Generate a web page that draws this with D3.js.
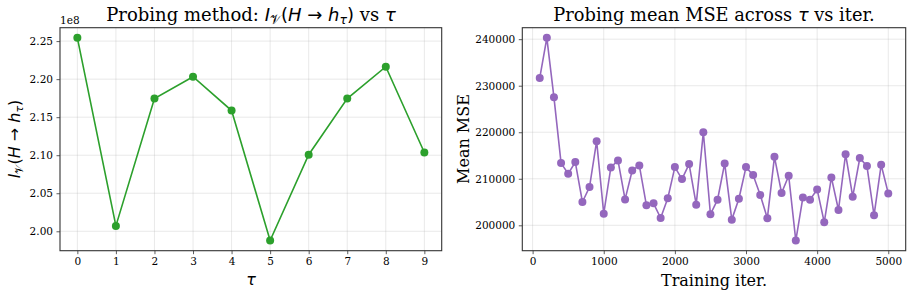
<!DOCTYPE html>
<html>
<head>
<meta charset="utf-8">
<script src="https://cdn.jsdelivr.net/npm/d3@7"></script>
<style>
  body { margin: 0; background: #fff; }
  svg text { font-family: "DejaVu Serif", serif; fill: #000; }
  .m { font-family: "DejaVu Sans", sans-serif; }
</style>
</head>
<body>
<div id="chart"></div>
<script>
// left panel: probing information per tau (values in units of 1e8)
var taus = [0, 1, 2, 3, 4, 5, 6, 7, 8, 9];
var infoVals = [2.2543, 2.0071, 2.1744, 2.2032, 2.1587, 1.9878, 2.1006, 2.1744, 2.2163, 2.1036];
var leftYTicks = [2.00, 2.05, 2.10, 2.15, 2.20, 2.25];

// right panel: mean MSE vs training iteration
var iters = [100, 200, 300, 400, 500, 600, 700, 800, 900, 1000,
             1100, 1200, 1300, 1400, 1500, 1600, 1700, 1800, 1900, 2000,
             2100, 2200, 2300, 2400, 2500, 2600, 2700, 2800, 2900, 3000,
             3100, 3200, 3300, 3400, 3500, 3600, 3700, 3800, 3900, 4000,
             4100, 4200, 4300, 4400, 4500, 4600, 4700, 4800, 4900, 5000];
var mseVals = [231650, 240290, 227500, 213370, 211080, 213580, 205010, 208220, 218080, 202500,
               212430, 213940, 205570, 211790, 212860, 204290, 204720, 201570, 205790, 212510,
               209940, 213150, 204430, 220010, 202360, 205510, 213290, 201220, 205720, 212510,
               210790, 206510, 201500, 214720, 206940, 210650, 196720, 206000, 205510, 207710,
               200640, 210290, 203290, 215290, 206150, 214440, 212730, 202140, 213010, 206860];
var rightXTicks = [0, 1000, 2000, 3000, 4000, 5000];
var rightYTicks = [200000, 210000, 220000, 230000, 240000];

var width = 913, height = 297;
var plotTop = 27.7, plotBottom = 250.7;

var svg = d3.select("#chart").append("svg")
    .attr("width", width)
    .attr("height", height);

function pad(ext) {
    var d = (ext[1] - ext[0]) * 0.05;
    return [ext[0] - d, ext[1] + d];
}

function drawPanel(opts) {
    var x = d3.scaleLinear().domain(pad(d3.extent(opts.xs))).range([opts.left, opts.right]);
    var y = d3.scaleLinear().domain(pad(d3.extent(opts.ys))).range([plotBottom, plotTop]);
    var g = svg.append("g");

    // grid
    g.selectAll("line.gx").data(opts.xTicks).enter().append("line")
        .attr("x1", function(d) { return x(d); }).attr("x2", function(d) { return x(d); })
        .attr("y1", plotTop).attr("y2", plotBottom)
        .attr("stroke", "#b0b0b0").attr("stroke-opacity", 0.35).attr("stroke-width", 0.8);
    g.selectAll("line.gy").data(opts.yTicks).enter().append("line")
        .attr("y1", function(d) { return y(d); }).attr("y2", function(d) { return y(d); })
        .attr("x1", opts.left).attr("x2", opts.right)
        .attr("stroke", "#b0b0b0").attr("stroke-opacity", 0.35).attr("stroke-width", 0.8);

    // axes
    var xAxis = d3.axisBottom(x).tickValues(opts.xTicks).tickSize(3.5).tickPadding(3.5).tickFormat(opts.xFmt);
    var yAxis = d3.axisLeft(y).tickValues(opts.yTicks).tickSize(3.5).tickPadding(3.5).tickFormat(opts.yFmt);
    var gx = g.append("g").attr("transform", "translate(0," + plotBottom + ")").call(xAxis);
    var gy = g.append("g").attr("transform", "translate(" + opts.left + ",0)").call(yAxis);
    [gx, gy].forEach(function(a) {
        a.select(".domain").remove();
        a.selectAll("line").attr("stroke", "#333").attr("stroke-width", 0.8);
        a.selectAll("text").style("font-family", "DejaVu Serif").style("font-size", "10.5px").attr("fill", "#000");
    });

    // line + markers
    var pts = opts.xs.map(function(d, i) { return [d, opts.ys[i]]; });
    g.append("path").datum(pts)
        .attr("fill", "none").attr("stroke", opts.color).attr("stroke-width", 1.6)
        .attr("d", d3.line().x(function(d) { return x(d[0]); }).y(function(d) { return y(d[1]); }));
    g.selectAll("circle").data(pts).enter().append("circle")
        .attr("cx", function(d) { return x(d[0]); })
        .attr("cy", function(d) { return y(d[1]); })
        .attr("r", 4).attr("fill", opts.color);

    // frame
    g.append("rect").attr("x", opts.left).attr("y", plotTop)
        .attr("width", opts.right - opts.left).attr("height", plotBottom - plotTop)
        .attr("fill", "none").attr("stroke", "#333").attr("stroke-width", 1.1);
    return g;
}

drawPanel({
    left: 60, right: 441.7, xs: taus, ys: infoVals,
    xTicks: taus, yTicks: leftYTicks, color: "#2ca02c",
    xFmt: d3.format("d"), yFmt: d3.format(".2f")
});
drawPanel({
    left: 522.3, right: 905.7, xs: iters, ys: mseVals,
    xTicks: rightXTicks, yTicks: rightYTicks, color: "#9467bd",
    xFmt: d3.format("d"), yFmt: d3.format("d")
});

// offset text
svg.append("text").attr("x", 60).attr("y", 24).style("font-size", "10.5px").text("1e8");

// left title with math parts
var t1 = svg.append("text").attr("x", 251).attr("y", 21).attr("text-anchor", "middle").style("font-size", "18px");
t1.append("tspan").text("Probing method: ");
t1.append("tspan").attr("class", "m").style("font-style", "italic").text("I");
t1.append("tspan").attr("class", "m").style("font-size", "12.5px").attr("dy", 3).text("\u{1D4B1}");
t1.append("tspan").attr("class", "m").attr("dy", -3).text("(");
t1.append("tspan").attr("class", "m").style("font-style", "italic").text("H");
t1.append("tspan").attr("class", "m").text(" \u2192 ");
t1.append("tspan").attr("class", "m").style("font-style", "italic").text("h");
t1.append("tspan").attr("class", "m").style("font-style", "italic").style("font-size", "12.5px").attr("dy", 3).text("\u03C4");
t1.append("tspan").attr("class", "m").attr("dy", -3).text(")");
t1.append("tspan").text(" vs ");
t1.append("tspan").attr("class", "m").style("font-style", "italic").text("\u03C4");

var t2 = svg.append("text").attr("x", 714).attr("y", 21).attr("text-anchor", "middle").style("font-size", "17.8px");
t2.append("tspan").text("Probing mean MSE across ");
t2.append("tspan").attr("class", "m").style("font-style", "italic").text("\u03C4");
t2.append("tspan").text(" vs iter.");

// x labels
svg.append("text").attr("x", 251).attr("y", 285).attr("text-anchor", "middle")
    .attr("class", "m").style("font-style", "italic").style("font-size", "16px").text("\u03C4");
svg.append("text").attr("x", 714).attr("y", 286).attr("text-anchor", "middle")
    .style("font-size", "16px").text("Training iter.");

// y labels
var yl = svg.append("text").attr("transform", "translate(20,139)rotate(-90)")
    .attr("text-anchor", "middle").style("font-size", "16px");
yl.append("tspan").attr("class", "m").style("font-style", "italic").text("I");
yl.append("tspan").attr("class", "m").style("font-size", "11px").attr("dy", 3).text("\u{1D4B1}");
yl.append("tspan").attr("class", "m").attr("dy", -3).text("(");
yl.append("tspan").attr("class", "m").style("font-style", "italic").text("H");
yl.append("tspan").attr("class", "m").text(" \u2192 ");
yl.append("tspan").attr("class", "m").style("font-style", "italic").text("h");
yl.append("tspan").attr("class", "m").style("font-style", "italic").style("font-size", "11px").attr("dy", 3).text("\u03C4");
yl.append("tspan").attr("class", "m").attr("dy", -3).text(")");

svg.append("text").attr("transform", "translate(469,139)rotate(-90)")
    .attr("text-anchor", "middle").style("font-size", "16px").text("Mean MSE");
</script>
</body>
</html>
